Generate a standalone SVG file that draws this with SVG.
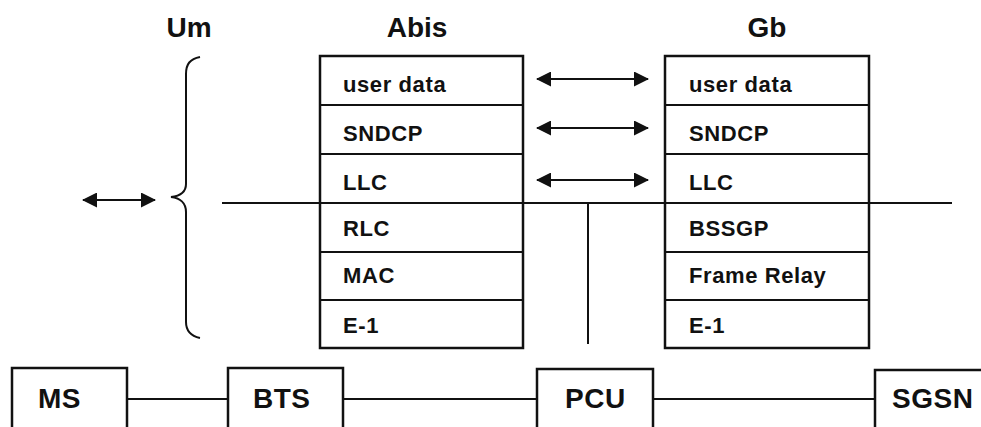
<svg xmlns="http://www.w3.org/2000/svg" width="981" height="427" viewBox="0 0 981 427">
<style>
.bg{fill:#fff}
.box{fill:#fff;stroke:#111;stroke-width:2.5}
.ln{stroke:#111;stroke-width:2;fill:none}
.lbl{font-family:"Liberation Sans",Arial,sans-serif;font-weight:bold;font-size:22px;fill:#111;letter-spacing:0.6px}
.hdr{font-family:"Liberation Sans",Arial,sans-serif;font-size:28px;fill:#111;text-anchor:middle}
.node{font-family:"Liberation Sans",Arial,sans-serif;font-weight:bold;font-size:28px;fill:#111;letter-spacing:0.5px}
</style>
<defs>
<marker id="ah" viewBox="0 0 15 15" refX="14" refY="7.5" markerWidth="15" markerHeight="15" markerUnits="userSpaceOnUse" orient="auto-start-reverse">
<path d="M0,0 L15,7.5 L0,15 Z" fill="#111"/>
</marker>
</defs>
<rect class="bg" x="0" y="0" width="981" height="427"/>
<g id="headers">
<text class="hdr" x="189" y="37" font-weight="bold" font-size="27">Um</text>
<text class="hdr" x="417" y="37" font-weight="bold">Abis</text>
<text class="hdr" x="767" y="37" font-weight="bold">Gb</text>
</g>
<g id="brace">
<path class="ln" d="M200,57 C190,59 186,64 186,74 L186,184 C186,192 180,196 171,197 C180,198 186,203 186,212 L186,322 C186,331 191,336 200,338"/>
</g>
<g id="abis-stack">
<rect class="box" x="320" y="56" width="203" height="292"/>
<line class="ln" x1="320" y1="105" x2="523" y2="105"/>
<line class="ln" x1="320" y1="154" x2="523" y2="154"/>
<line class="ln" x1="320" y1="252" x2="523" y2="252"/>
<line class="ln" x1="320" y1="300" x2="523" y2="300"/>
<text class="lbl" x="343" y="92">user data</text>
<text class="lbl" x="343" y="141">SNDCP</text>
<text class="lbl" x="343" y="190">LLC</text>
<text class="lbl" x="343" y="236">RLC</text>
<text class="lbl" x="343" y="283">MAC</text>
<text class="lbl" x="343" y="333">E-1</text>
</g>
<g id="gb-stack">
<rect class="box" x="665" y="56" width="204" height="292"/>
<line class="ln" x1="665" y1="105" x2="869" y2="105"/>
<line class="ln" x1="665" y1="154" x2="869" y2="154"/>
<line class="ln" x1="665" y1="252" x2="869" y2="252"/>
<line class="ln" x1="665" y1="300" x2="869" y2="300"/>
<text class="lbl" x="689" y="92">user data</text>
<text class="lbl" x="689" y="141">SNDCP</text>
<text class="lbl" x="689" y="190">LLC</text>
<text class="lbl" x="689" y="236">BSSGP</text>
<text class="lbl" x="689" y="283">Frame Relay</text>
<text class="lbl" x="689" y="333">E-1</text>
</g>
<g id="MS">
<rect class="box" x="12" y="368" width="115" height="80"/>
<text class="node" x="38" y="408">MS</text>
</g>
<g id="BTS">
<rect class="box" x="228" y="368" width="115" height="80"/>
<text class="node" x="253" y="408">BTS</text>
</g>
<g id="PCU">
<rect class="box" x="537" y="369" width="116" height="80"/>
<text class="node" x="565" y="408">PCU</text>
</g>
<g id="SGSN">
<rect class="box" x="875" y="370" width="120" height="80"/>
<text class="node" x="892" y="408">SGSN</text>
</g>
<g id="connectors">
<line class="ln" x1="222" y1="203" x2="952" y2="203" stroke-width="2.6"/>
<line class="ln" x1="588" y1="203" x2="588" y2="344" stroke-width="1.6"/>
<line class="ln" x1="83" y1="200" x2="155" y2="200" marker-start="url(#ah)" marker-end="url(#ah)"/>
<line class="ln" x1="537" y1="79" x2="648" y2="79" marker-start="url(#ah)" marker-end="url(#ah)"/>
<line class="ln" x1="537" y1="128" x2="648" y2="128" marker-start="url(#ah)" marker-end="url(#ah)"/>
<line class="ln" x1="537" y1="180" x2="648" y2="180" marker-start="url(#ah)" marker-end="url(#ah)"/>
<line class="ln" x1="127" y1="399" x2="228" y2="399"/>
<line class="ln" x1="343" y1="399" x2="537" y2="399"/>
<line class="ln" x1="653" y1="399" x2="875" y2="399"/>
</g>
</svg>
